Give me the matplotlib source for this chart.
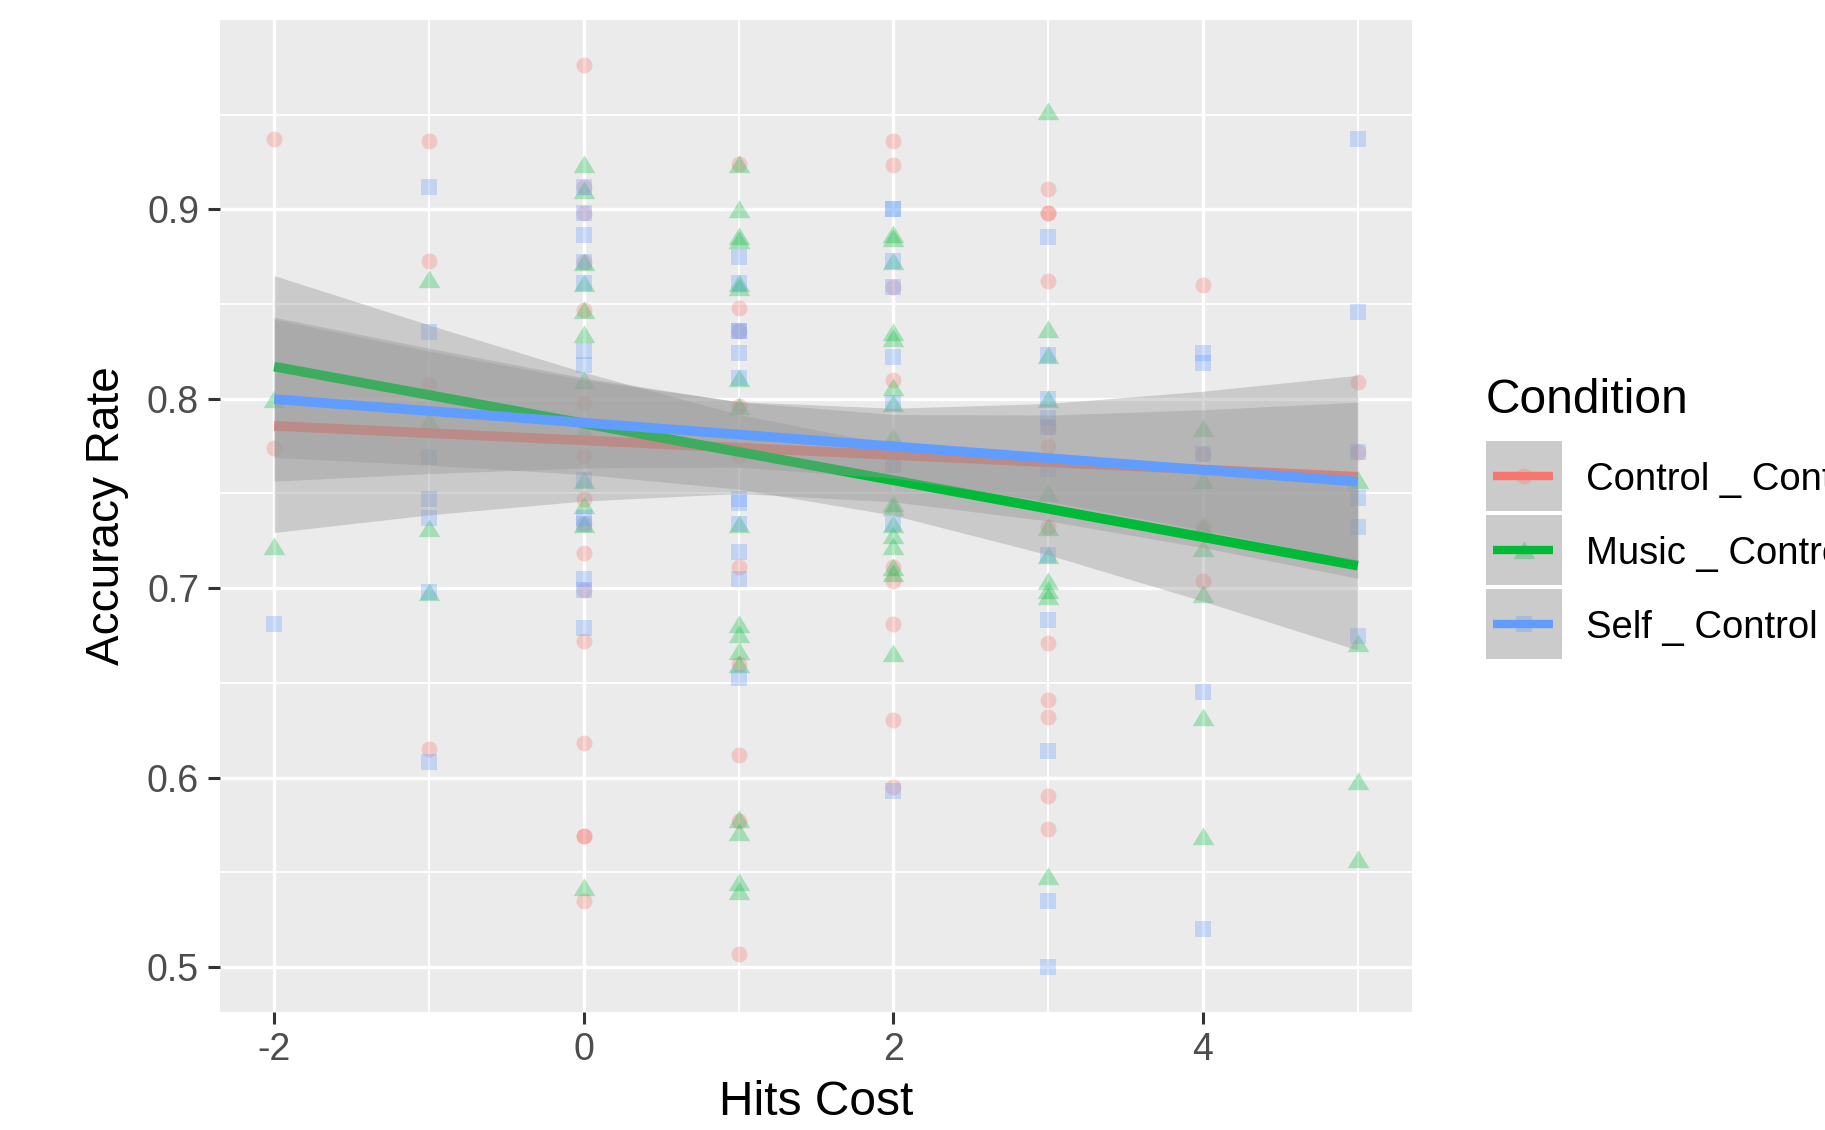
import matplotlib
matplotlib.use("Agg")
import matplotlib.pyplot as plt
from matplotlib.lines import Line2D
from matplotlib.patches import Rectangle

plt.rcParams['font.family'] = ['Liberation Sans', 'DejaVu Sans']

# groups
conditions = ["Control _ Control", "Music _ Control", "Self _ Control"]
colors = ["#F8766D", "#00BA38", "#619CFF"]

# accuracy rate per hits cost
control_pts = {
    -2: [0.937, 0.774],
    -1: [0.936, 0.873, 0.808, 0.615],
    0: [0.976, 0.912, 0.898, 0.872, 0.847, 0.798, 0.770, 0.747, 0.734, 0.7185,
        0.699, 0.672, 0.618, 0.569, 0.569, 0.535],
    1: [0.924, 0.848, 0.836, 0.796, 0.770, 0.711, 0.660, 0.612, 0.577, 0.507],
    2: [0.936, 0.9235, 0.859, 0.810, 0.765, 0.711, 0.704, 0.681, 0.6305, 0.595],
    3: [0.911, 0.898, 0.898, 0.862, 0.785, 0.775, 0.7325, 0.671, 0.641, 0.632,
        0.590, 0.573],
    4: [0.860, 0.771, 0.7325, 0.704],
    5: [0.809, 0.772],
}
music_pts = {
    -2: [0.800, 0.722],
    -1: [0.863, 0.788, 0.732, 0.698],
    0: [0.924, 0.910, 0.872, 0.861, 0.847, 0.834, 0.810, 0.783, 0.757, 0.744,
        0.734, 0.542],
    1: [0.924, 0.900, 0.886, 0.884, 0.861, 0.859, 0.811, 0.796, 0.734, 0.681,
        0.676, 0.667, 0.660, 0.578, 0.571, 0.545, 0.540],
    2: [0.887, 0.885, 0.873, 0.835, 0.832, 0.806, 0.798, 0.780, 0.745, 0.743,
        0.734, 0.728, 0.722, 0.711, 0.708, 0.666],
    3: [0.952, 0.837, 0.823, 0.800, 0.750, 0.7325, 0.7176, 0.704, 0.699,
        0.6956, 0.548],
    4: [0.7845, 0.757, 0.7325, 0.721, 0.697, 0.632, 0.569],
    5: [0.757, 0.671, 0.598, 0.557],
}
self_pts = {
    -2: [0.681],
    -1: [0.912, 0.835, 0.769, 0.747, 0.737, 0.698, 0.608],
    0: [0.912, 0.898, 0.8865, 0.872, 0.861, 0.825, 0.818, 0.757, 0.737, 0.734,
        0.705, 0.699, 0.679],
    1: [0.875, 0.861, 0.836, 0.836, 0.824, 0.811, 0.747, 0.745, 0.734, 0.719,
        0.705, 0.6526],
    2: [0.900, 0.900, 0.873, 0.859, 0.822, 0.798, 0.765, 0.734, 0.593],
    3: [0.8856, 0.823, 0.800, 0.790, 0.785, 0.763, 0.7176, 0.683, 0.614,
        0.535, 0.500],
    4: [0.824, 0.819, 0.771, 0.645, 0.520],
    5: [0.937, 0.846, 0.772, 0.7475, 0.7325, 0.6745],
}

# lm fits (ends) and confidence bands
fit_x = [-2, 5]
control_fit = [0.7857, 0.7588]
music_fit = [0.8170, 0.7119]
self_fit = [0.7998, 0.7562]

band_x = [-2, -1, 0, 1, 2, 3, 4, 5]
control_hi = [0.8420, 0.8251, 0.8100, 0.7985, 0.7950, 0.7975, 0.8040, 0.8124]
control_lo = [0.7294, 0.7387, 0.7460, 0.7500, 0.7456, 0.7355, 0.7214, 0.7052]
music_hi = [0.8650, 0.8390, 0.8140, 0.7917, 0.7755, 0.7664, 0.7607, 0.7565]
music_lo = [0.7690, 0.7650, 0.7600, 0.7523, 0.7385, 0.7176, 0.6931, 0.6673]
self_hi = [0.8431, 0.8267, 0.8111, 0.7983, 0.7917, 0.7914, 0.7942, 0.7982]
self_lo = [0.7565, 0.7605, 0.7635, 0.7639, 0.7581, 0.7458, 0.7306, 0.7142]

x_ticks = [-2, 0, 2, 4]
x_ticklabels = ["-2", "0", "2", "4"]
y_ticks = [0.5, 0.6, 0.7, 0.8, 0.9]
y_ticklabels = ["0.5", "0.6", "0.7", "0.8", "0.9"]

groups = [control_pts, music_pts, self_pts]
fits = [control_fit, music_fit, self_fit]
bands = [(control_lo, control_hi), (music_lo, music_hi), (self_lo, self_hi)]

W, H = 1825, 1130
fig = plt.figure(figsize=(W / 100, H / 100), dpi=100)
ax = fig.add_axes([220 / W, 1 - 1012 / H, 1192 / W, 992 / H])
ax.set_facecolor("#EBEBEB")
for s in ax.spines.values():
    s.set_visible(False)

ax.set_xlim(-2.35, 5.35)
ax.set_ylim(0.4762, 1.0)
ax.set_xticks(x_ticks)
ax.set_xticklabels(x_ticklabels)
ax.set_xticks([-1, 1, 3, 5], minor=True)
ax.set_yticks(y_ticks)
ax.set_yticklabels(y_ticklabels)
ax.set_yticks([0.55, 0.65, 0.75, 0.85, 0.95], minor=True)
ax.grid(which="major", color="white", linewidth=2.4)
ax.grid(which="minor", color="white", linewidth=1.3)
ax.set_axisbelow(True)
ax.tick_params(which="major", length=8.6, width=2.2, color="#333333",
               labelsize=27, labelcolor="#4D4D4D")
ax.tick_params(axis="y", which="major", pad=6.5)
ax.tick_params(axis="x", which="major", pad=6)
ax.tick_params(which="minor", length=0)

tri = [(-1, -0.8), (1, -0.8), (0, 0.85)]
markers = ["o", tri, "s"]
msizes = [11.5 ** 2, 15.6 ** 2, 12.0 ** 2]

for pts, col, mk, ms in zip(groups, colors, markers, msizes):
    xs = [x for x, ys in pts.items() for _ in ys]
    ys = [y for _, yy in pts.items() for y in yy]
    ax.scatter(xs, ys, s=ms, marker=mk, color=col, alpha=0.3,
               linewidths=0, zorder=2)

z = 3
for (lo, hi), fit, col in zip(bands, fits, colors):
    ax.fill_between(band_x, lo, hi, color="#999999", alpha=0.4,
                    linewidth=0, zorder=z)
    ax.plot(fit_x, fit, color=col, linewidth=7, solid_capstyle="butt",
            zorder=z + 0.1)
    z += 0.2

ax.set_xlabel("Hits Cost", fontsize=34.5, color="black")
ax.xaxis.set_label_coords(0.5, (1012 - 1115) / 992)
ax.xaxis.label.set_verticalalignment("baseline")
ax.set_ylabel("Accuracy Rate", fontsize=33, color="black")
ax.yaxis.set_label_coords((107 - 220) / 1192, 0.5)
ax.yaxis.label.set_verticalalignment("center")


# legend, built by hand in figure pixels
def fx(px):
    return px / W


def fy(py):
    return 1 - py / H


fig.text(fx(1486), fy(413), "Condition", fontsize=34.5, va="baseline",
         ha="left", color="black")
key_tops = [441, 515, 589]
for top, lab, col, mk, ms in zip(key_tops, conditions, colors, markers, msizes):
    fig.add_artist(Rectangle((fx(1486), fy(top + 70)), 76 / W, 70 / H,
                             transform=fig.transFigure, facecolor="#CBCBCB",
                             edgecolor="none"))
    cy = top + 35
    fig.add_artist(Line2D([fx(1524)], [fy(cy)], transform=fig.transFigure,
                          marker=mk, markersize=ms ** 0.5, color=col,
                          alpha=0.3, markeredgewidth=0, linestyle="none"))
    fig.add_artist(Line2D([fx(1493), fx(1553)], [fy(cy), fy(cy)],
                          transform=fig.transFigure, color=col, linewidth=6,
                          solid_capstyle="butt"))
    fig.text(fx(1586), fy(cy + 4), lab, fontsize=27.5, va="center",
             ha="left", color="black")

fig.savefig("out.png", dpi=100)
